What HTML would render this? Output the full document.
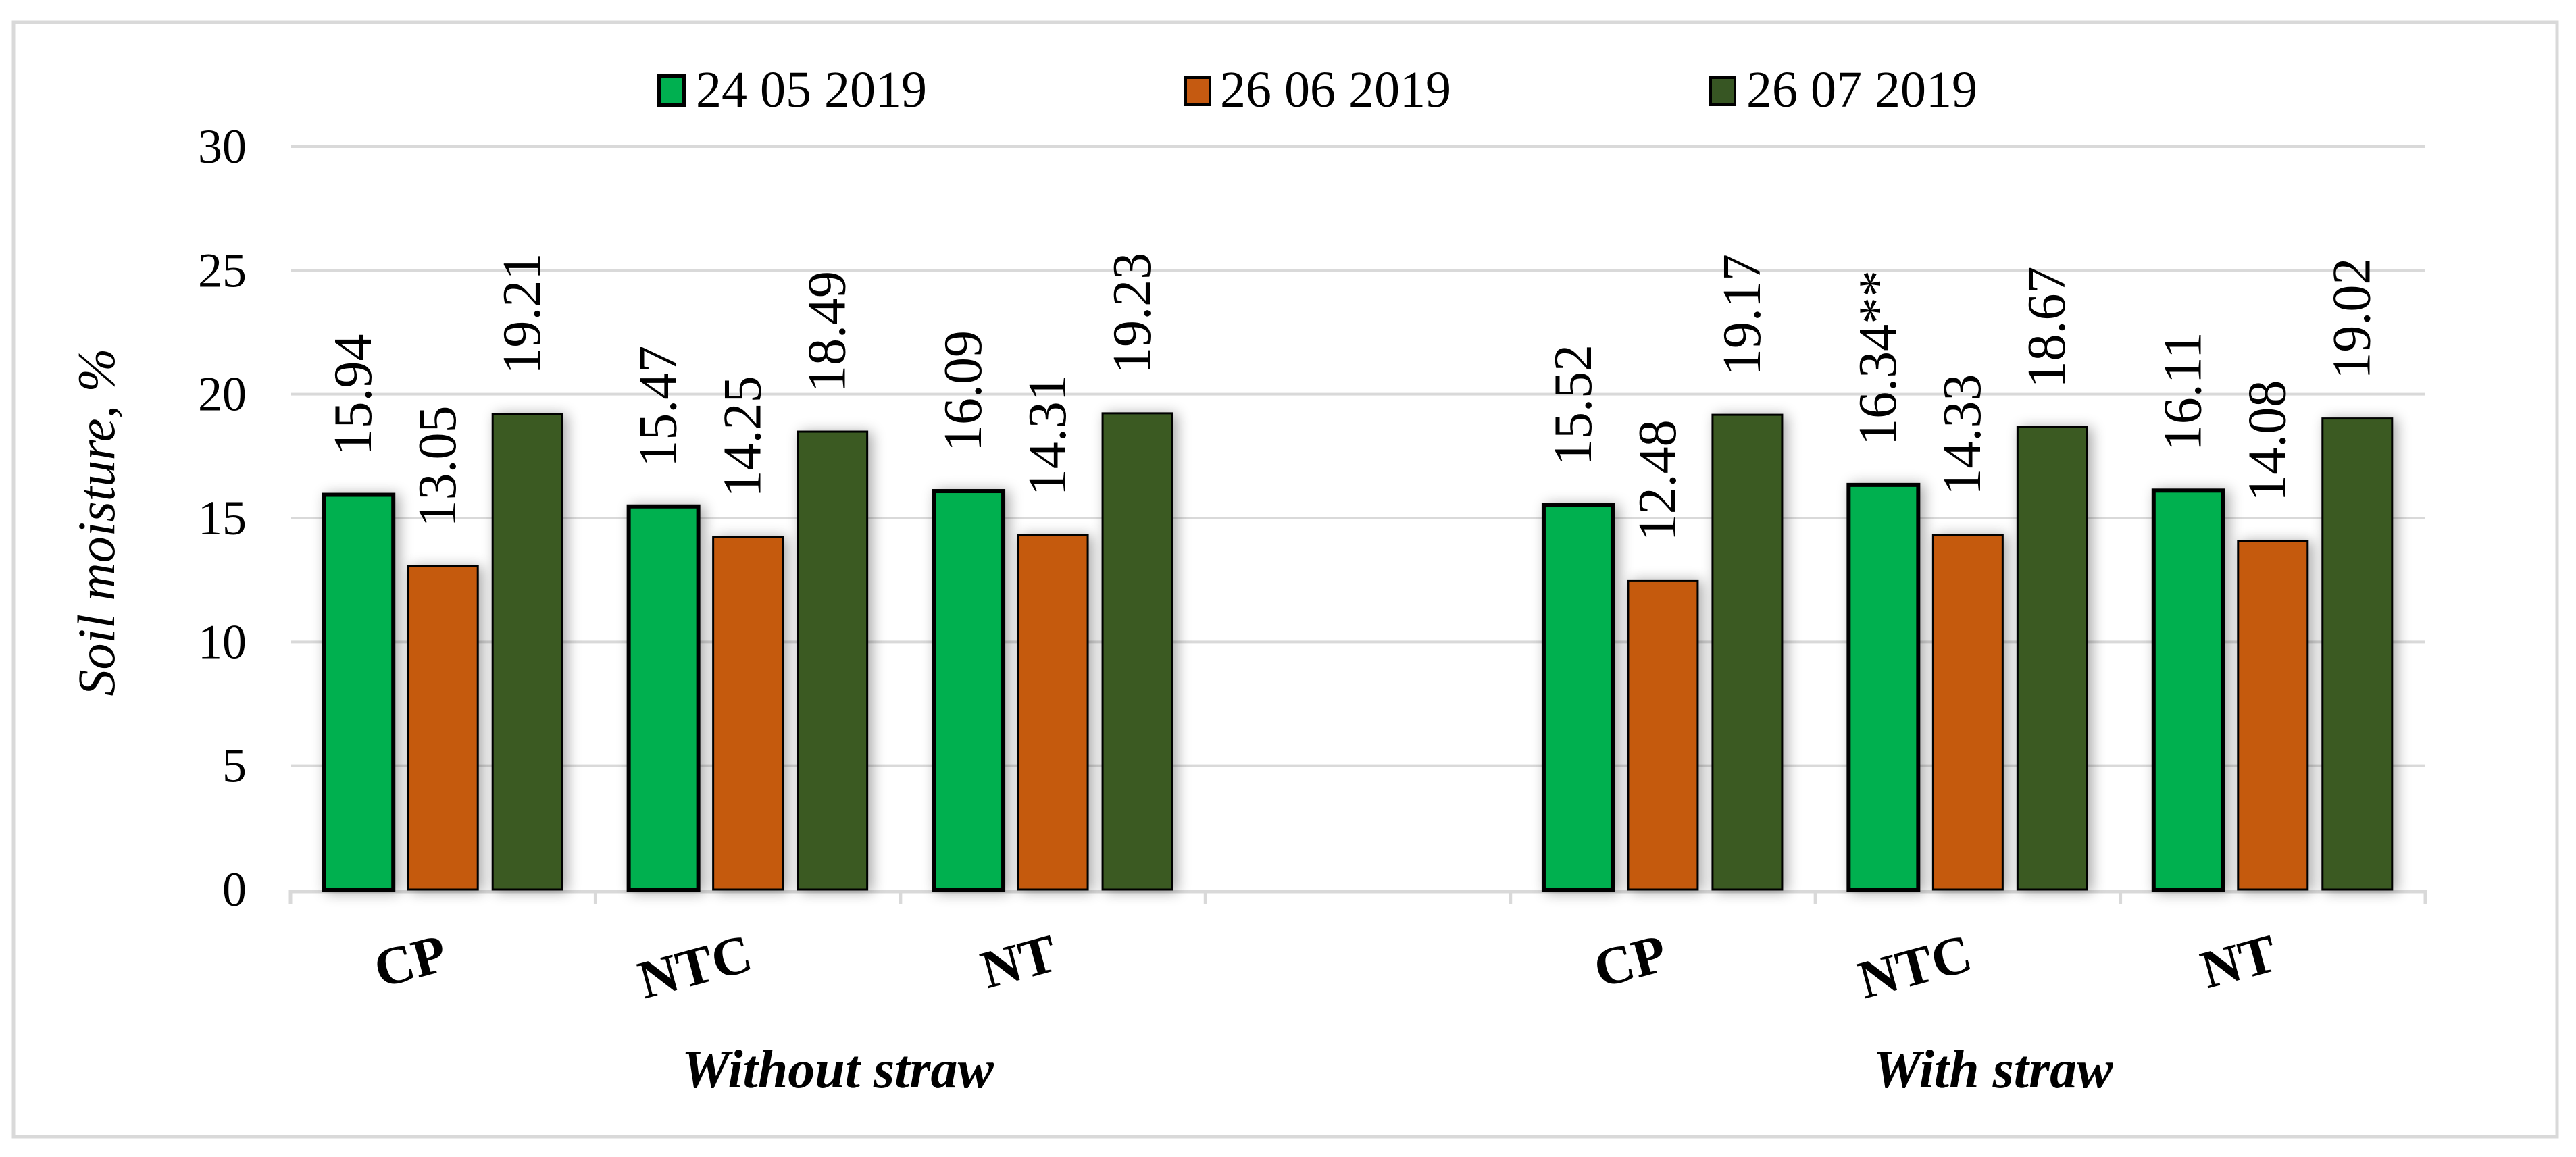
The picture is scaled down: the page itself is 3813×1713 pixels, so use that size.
<!DOCTYPE html>
<html><head><meta charset="utf-8"><style>
html,body{margin:0;padding:0;background:#fff;}
svg, svg text{font-family:"Liberation Serif","DejaVu Serif",serif;}
</style></head><body>
<svg id="chart" width="3813" height="1708" viewBox="0 0 3813 1708" font-family="Liberation Serif, DejaVu Serif, serif">
<defs><filter id="sh" x="-30%" y="-10%" width="160%" height="120%"><feGaussianBlur in="SourceAlpha" stdDeviation="10"/><feOffset dx="6" dy="2"/><feComponentTransfer><feFuncA type="linear" slope="0.35"/></feComponentTransfer><feMerge><feMergeNode/><feMergeNode in="SourceGraphic"/></feMerge></filter></defs>
<rect x="20" y="33" width="3765" height="1650" fill="#fff" stroke="#d9d9d9" stroke-width="5"/>
<g id="grid"></g><g id="bars"></g><g id="labels"></g>
<text x="151" y="773" transform="rotate(-90 151 773)" text-anchor="middle" dominant-baseline="middle" font-style="italic" font-size="78">Soil moisture, %</text>
<text x="1240" y="1610" text-anchor="middle" font-weight="bold" font-style="italic" font-size="80">Without straw</text>
<text x="2950" y="1610" text-anchor="middle" font-weight="bold" font-style="italic" font-size="80">With straw</text>
<g>
<g><rect x="976" y="113" width="36" height="42" fill="#00b050" stroke="#000" stroke-width="6"/><text x="1030" y="158" font-size="76">24 05 2019</text></g>
<g><rect x="1755" y="115" width="36" height="40" fill="#c55a11" stroke="#000" stroke-width="4"/><text x="1806" y="158" font-size="76">26 06 2019</text></g>
<g><rect x="2532" y="115" width="36" height="40" fill="#375623" stroke="#000" stroke-width="4"/><text x="2585" y="158" font-size="76">26 07 2019</text></g>
</g>
</svg>
<script>
const categories = ["CP","NTC","NT","","CP","NTC","NT"];
const series1 = [15.94,15.47,16.09,null,15.52,16.34,16.11];
const series2 = [13.05,14.25,14.31,null,12.48,14.33,14.08];
const series3 = [19.21,18.49,19.23,null,19.17,18.67,19.02];
const labels1 = ["15.94","15.47","16.09","","15.52","16.34**","16.11"];
const labels2 = ["13.05","14.25","14.31","","12.48","14.33","14.08"];
const labels3 = ["19.21","18.49","19.23","","19.17","18.67","19.02"];
const yTicks = [0,5,10,15,20,25,30];

const NS="http://www.w3.org/2000/svg";
const X0=430, X1=3590, Y0=1317, Y30=217;
const slot=(X1-X0)/categories.length;
const yScale=v=>Y0-(v/30)*(Y0-Y30);
const xCenter=i=>X0+slot*(i+0.5);
function mk(tag,attrs,parent){const e=document.createElementNS(NS,tag);for(const k in attrs)e.setAttribute(k,attrs[k]);parent.appendChild(e);return e;}
const grid=document.getElementById('grid'), bars=document.getElementById('bars'), labs=document.getElementById('labels');
yTicks.forEach(t=>{
  const y=yScale(t);
  if(t>0){const l=mk('line',{x1:X0,x2:X1,y1:y,y2:y,stroke:'#d9d9d9','stroke-width':4},grid);
  
  }
  const tx=mk('text',{x:365,y:y+24,'text-anchor':'end','font-size':72},labs);
  tx.textContent=t;
  
  
});
const ax=mk('line',{x1:X0,x2:X1,y1:Y0+3,y2:Y0+3,stroke:'#d9d9d9','stroke-width':5},grid);


for(let i=0;i<=categories.length;i++){
  const x=X0+slot*i;
  const tk=mk('line',{x1:x,x2:x,y1:Y0,y2:Y0+22,stroke:'#d9d9d9','stroke-width':5},grid);
  
  
}
const series=[series1,series2,series3], lbls=[labels1,labels2,labels3];
const colors=['#00b050','#c55a11','#3a5a24'], sw=[6,3,3];
const bw=103, gap=22;
categories.forEach((c,i)=>{
  const cx=xCenter(i);
  series.forEach((s,j)=>{
    if(s[i]==null) return;
    const x=cx-(3*bw+2*gap)/2+j*(bw+gap);
    const y=yScale(s[i]);
    const r=mk('rect',{x:x,y:y,width:bw,height:Y0-y,fill:colors[j],stroke:'#000','stroke-width':sw[j],filter:'url(#sh)'},bars);
    
    
    const tx=x+bw/2, ty=y-58;
    const t=mk('text',{x:tx,y:ty,transform:'rotate(-90 '+tx+' '+ty+')','font-size':80,'dominant-baseline':'middle'},labs);
    t.textContent=lbls[j][i];
    
    
  });
  if(c){
    const lx=cx+10, ly=1435;
    const t=mk('text',{x:lx,y:ly,'text-anchor':'end','font-weight':'bold','font-size':80,transform:'rotate(-15 '+lx+' '+ly+')'},labs);
    t.textContent=c;
    
    
  }
});
</script>
</body></html>
